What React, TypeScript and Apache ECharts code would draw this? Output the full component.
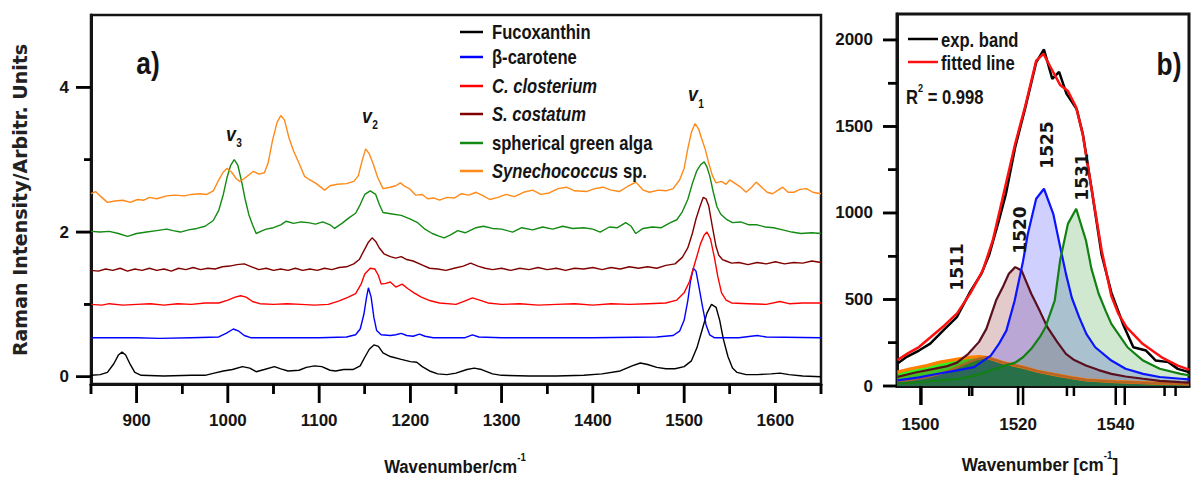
import React, { useEffect, useRef } from "react";
import * as echarts from "echarts";

// ---------- axis ticks ----------
const xTicksA = [900, 1000, 1100, 1200, 1300, 1400, 1500, 1600];
const xMinorA = [850, 950, 1050, 1150, 1250, 1350, 1450, 1550, 1650];
const yTicksA = [0, 2, 4];
const yMinorA = [1, 3];
const xTicksB = [1500, 1520, 1540];
const xMinorB = [1510, 1530, 1550];
const yTicksB = [0, 500, 1000, 1500, 2000];
const yMinorB = [250, 750, 1250, 1750];

// ---------- panel a spectra (wavenumber, offset intensity) ----------
const fucoxanthin = [[850,0.02],[860,0.03],[868,0.06],[875,0.18],[880,0.3],[884,0.34],[888,0.3],[893,0.17],[898,0.06],[905,0.02],[930,0.01],[960,0.02],[975,0.02],[985,0.05],[995,0.08],[1005,0.1],[1016,0.14],[1024,0.12],[1031,0.07],[1040,0.1],[1051,0.14],[1058,0.11],[1066,0.08],[1078,0.09],[1086,0.13],[1095,0.15],[1103,0.14],[1112,0.09],[1118,0.08],[1127,0.1],[1137,0.1],[1145,0.15],[1150,0.27],[1155,0.38],[1160,0.44],[1165,0.42],[1170,0.33],[1178,0.28],[1190,0.24],[1200,0.21],[1207,0.2],[1213,0.14],[1221,0.08],[1230,0.04],[1240,0.03],[1250,0.05],[1262,0.1],[1270,0.12],[1278,0.1],[1290,0.04],[1300,0.02],[1330,0.01],[1360,0.01],[1390,0.02],[1410,0.04],[1430,0.08],[1443,0.15],[1452,0.19],[1460,0.17],[1470,0.13],[1480,0.11],[1490,0.11],[1500,0.14],[1508,0.22],[1514,0.4],[1520,0.66],[1525,0.88],[1530,1.0],[1535,0.96],[1539,0.78],[1543,0.52],[1548,0.28],[1553,0.12],[1558,0.06],[1568,0.03],[1580,0.03],[1595,0.04],[1605,0.05],[1615,0.03],[1630,0.01],[1650,0.0]];
const betaCarotene = [[850,0.54],[900,0.54],[925,0.53],[960,0.54],[990,0.55],[998,0.6],[1006,0.66],[1012,0.63],[1018,0.57],[1025,0.54],[1060,0.54],[1100,0.54],[1130,0.55],[1140,0.58],[1145,0.66],[1149,0.86],[1152,1.1],[1154,1.23],[1157,1.1],[1160,0.82],[1163,0.64],[1168,0.58],[1178,0.57],[1184,0.58],[1190,0.6],[1196,0.57],[1203,0.56],[1210,0.59],[1216,0.56],[1225,0.54],[1260,0.54],[1268,0.58],[1275,0.55],[1300,0.54],[1400,0.54],[1470,0.55],[1488,0.57],[1495,0.63],[1500,0.78],[1504,1.05],[1507,1.32],[1510,1.5],[1513,1.46],[1516,1.26],[1520,0.98],[1524,0.72],[1528,0.58],[1533,0.54],[1560,0.54],[1580,0.57],[1590,0.55],[1650,0.54]];
const cClosterium = [[850,1.0],[862,0.99],[870,1.01],[885,0.99],[900,1.0],[915,1.01],[930,0.99],[945,1.01],[960,1.0],[975,1.02],[990,1.02],[1000,1.06],[1008,1.1],[1014,1.12],[1020,1.1],[1027,1.04],[1035,1.01],[1050,1.0],[1065,1.01],[1080,1.0],[1095,0.99],[1110,1.0],[1122,1.05],[1132,1.1],[1140,1.15],[1146,1.28],[1150,1.42],[1156,1.5],[1161,1.49],[1165,1.4],[1168,1.28],[1173,1.29],[1178,1.31],[1184,1.24],[1191,1.28],[1197,1.22],[1204,1.16],[1212,1.1],[1222,1.05],[1232,1.02],[1250,1.0],[1260,1.05],[1268,1.09],[1276,1.06],[1285,1.02],[1300,1.0],[1320,1.01],[1340,0.99],[1360,1.0],[1380,1.01],[1400,0.99],[1420,1.01],[1440,1.0],[1460,1.01],[1480,1.02],[1492,1.06],[1500,1.16],[1506,1.32],[1512,1.58],[1518,1.84],[1522,1.96],[1525,2.0],[1529,1.9],[1533,1.66],[1537,1.38],[1541,1.16],[1546,1.06],[1552,1.02],[1570,1.01],[1590,1.0],[1605,1.04],[1615,1.01],[1630,1.02],[1650,1.02]];
const sCostatum = [[850,1.47],[858,1.46],[866,1.49],[874,1.47],[882,1.5],[890,1.46],[898,1.49],[906,1.47],[914,1.5],[922,1.47],[930,1.49],[938,1.46],[946,1.5],[954,1.48],[962,1.51],[970,1.48],[978,1.5],[986,1.49],[994,1.52],[1002,1.53],[1010,1.55],[1018,1.56],[1026,1.52],[1034,1.48],[1042,1.5],[1050,1.47],[1058,1.49],[1066,1.47],[1074,1.5],[1082,1.47],[1090,1.49],[1098,1.47],[1106,1.5],[1114,1.48],[1122,1.51],[1130,1.52],[1138,1.56],[1144,1.62],[1149,1.74],[1154,1.86],[1158,1.92],[1162,1.87],[1166,1.78],[1171,1.7],[1178,1.66],[1184,1.64],[1190,1.66],[1196,1.62],[1203,1.6],[1212,1.55],[1221,1.5],[1230,1.49],[1239,1.47],[1248,1.5],[1258,1.53],[1266,1.57],[1274,1.53],[1282,1.5],[1290,1.48],[1300,1.5],[1310,1.47],[1320,1.5],[1330,1.48],[1340,1.51],[1350,1.48],[1360,1.5],[1370,1.47],[1380,1.5],[1390,1.49],[1400,1.51],[1410,1.48],[1420,1.51],[1430,1.49],[1440,1.52],[1450,1.5],[1460,1.52],[1470,1.5],[1480,1.54],[1490,1.56],[1498,1.65],[1504,1.78],[1509,1.98],[1513,2.18],[1517,2.34],[1521,2.48],[1524,2.46],[1527,2.36],[1531,2.07],[1535,1.8],[1538,1.68],[1542,1.62],[1546,1.6],[1552,1.57],[1560,1.58],[1570,1.55],[1580,1.58],[1590,1.56],[1600,1.59],[1610,1.56],[1620,1.58],[1630,1.57],[1640,1.6],[1650,1.58]];
const greenAlga = [[850,2.01],[860,2.0],[870,2.01],[880,1.98],[890,1.94],[900,1.98],[911,2.0],[922,2.02],[933,2.04],[940,2.02],[948,2.0],[957,2.03],[966,2.05],[975,2.08],[984,2.16],[990,2.3],[995,2.52],[999,2.75],[1003,2.92],[1007,3.0],[1011,2.92],[1015,2.7],[1019,2.45],[1023,2.24],[1027,2.1],[1031,1.98],[1036,2.01],[1042,2.04],[1050,2.06],[1058,2.1],[1064,2.15],[1072,2.12],[1080,2.14],[1088,2.13],[1096,2.11],[1104,2.14],[1112,2.1],[1117,2.05],[1125,2.12],[1133,2.2],[1140,2.26],[1145,2.38],[1150,2.52],[1156,2.57],[1162,2.52],[1166,2.38],[1170,2.27],[1180,2.25],[1190,2.23],[1200,2.18],[1208,2.13],[1216,2.04],[1224,1.98],[1232,1.94],[1237,1.92],[1244,1.96],[1252,2.02],[1260,1.99],[1272,2.06],[1280,2.08],[1290,2.05],[1300,2.04],[1312,2.0],[1322,2.06],[1334,2.03],[1345,2.07],[1356,2.04],[1367,2.08],[1378,2.05],[1390,2.06],[1400,2.04],[1408,2.0],[1418,2.07],[1427,2.06],[1436,2.13],[1442,2.08],[1447,1.98],[1455,2.05],[1465,2.07],[1475,2.06],[1485,2.13],[1492,2.17],[1498,2.28],[1504,2.45],[1509,2.67],[1514,2.85],[1518,2.93],[1522,2.97],[1525,2.9],[1528,2.78],[1532,2.55],[1536,2.35],[1540,2.25],[1546,2.18],[1553,2.13],[1562,2.14],[1571,2.1],[1580,2.1],[1589,2.07],[1598,2.06],[1608,2.03],[1618,2.0],[1628,1.98],[1640,1.99],[1650,1.98]];
const synechococcus = [[850,2.53],[855,2.56],[860,2.5],[868,2.41],[876,2.43],[885,2.44],[893,2.41],[901,2.45],[908,2.44],[914,2.48],[922,2.46],[933,2.5],[942,2.51],[952,2.5],[960,2.52],[969,2.53],[977,2.52],[984,2.57],[990,2.72],[995,2.83],[999,2.88],[1004,2.83],[1009,2.74],[1013,2.7],[1018,2.74],[1024,2.8],[1028,2.84],[1034,2.8],[1040,2.82],[1044,2.95],[1049,3.27],[1054,3.52],[1058,3.61],[1062,3.55],[1067,3.3],[1072,3.12],[1078,2.95],[1084,2.77],[1090,2.72],[1097,2.67],[1106,2.58],[1112,2.64],[1120,2.66],[1130,2.67],[1138,2.7],[1143,2.78],[1147,2.98],[1151,3.15],[1155,3.08],[1159,2.95],[1164,2.76],[1170,2.6],[1178,2.62],[1184,2.64],[1189,2.68],[1194,2.63],[1199,2.6],[1206,2.51],[1213,2.52],[1219,2.46],[1226,2.47],[1232,2.44],[1240,2.48],[1248,2.47],[1256,2.53],[1264,2.51],[1272,2.55],[1280,2.5],[1287,2.45],[1296,2.48],[1305,2.52],[1314,2.49],[1324,2.55],[1334,2.58],[1343,2.52],[1352,2.54],[1362,2.6],[1371,2.62],[1380,2.57],[1393,2.56],[1402,2.6],[1411,2.62],[1420,2.58],[1429,2.56],[1438,2.63],[1447,2.69],[1455,2.58],[1462,2.55],[1472,2.58],[1480,2.57],[1488,2.6],[1495,2.72],[1500,2.88],[1504,3.15],[1508,3.38],[1512,3.5],[1516,3.42],[1519,3.3],[1523,3.15],[1527,2.95],[1531,2.78],[1535,2.68],[1541,2.7],[1546,2.66],[1550,2.72],[1555,2.68],[1562,2.62],[1568,2.55],[1574,2.62],[1579,2.69],[1585,2.62],[1591,2.55],[1597,2.53],[1603,2.58],[1608,2.62],[1614,2.55],[1620,2.55],[1627,2.59],[1634,2.6],[1641,2.55],[1650,2.53]];

const namesA = ["Fucoxanthin", "β-carotene", "C. closterium", "S. costatum", "spherical green alga", "Synechococcus sp."];
const legendTextA = ["Fucoxanthin", "β-carotene", "{i|C. closterium}", "{i|S. costatum}", "spherical green alga", "{i|Synechococcus}{n| sp.}"];
const colorsA = ["#000000", "#0000ff", "#ff0000", "#800000", "#138a13", "#ff8a1a"];
const spectraA = [fucoxanthin, betaCarotene, cClosterium, sCostatum, greenAlga, synechococcus];

// ---------- panel b: band fit ----------
const expBand = [[1495.3,130],[1497,165],[1499.7,205],[1502,245],[1505,330],[1507.5,400],[1510.2,545],[1512.5,650],[1514.1,760],[1516.1,960],[1517.5,1110],[1519.4,1380],[1521.4,1600],[1523.7,1870],[1525.3,1945],[1527,1775],[1528.4,1815],[1529.9,1690],[1532,1600],[1533.3,1450],[1535.1,1130],[1537.1,760],[1539.1,540],[1541.6,350],[1543.6,224],[1546.2,205],[1548.2,147],[1550.8,138],[1552.7,99],[1555,80]];
const fittedLine = [[1495.3,150],[1497.5,190],[1499.7,225],[1502,280],[1504.9,350],[1507.5,420],[1510.2,535],[1512.8,670],[1514.8,840],[1516.7,1070],[1519.4,1400],[1521.4,1610],[1523.7,1880],[1525.2,1920],[1526.6,1845],[1528.6,1740],[1530.2,1705],[1531.9,1610],[1533.2,1460],[1535.1,1130],[1537.1,785],[1539.1,520],[1540.5,420],[1542.2,340],[1545.5,244],[1549.4,166],[1552.7,118],[1555,95]];
const band1511 = [[1495.3,80],[1498,100],[1501.3,118],[1504,138],[1507.9,157],[1510,165],[1512,170],[1513.5,166],[1517,135],[1521,109],[1524,85],[1527.5,66],[1531,48],[1534,35],[1540,25],[1547,18],[1555,12]];
const band1513 = [[1495.3,25],[1498,35],[1501.3,50],[1504,70],[1506,90],[1508,115],[1510,140],[1512,158],[1513.5,166],[1517,135],[1521,109],[1524,85],[1527.5,66],[1531,48],[1534,35],[1540,25],[1547,18],[1555,12]];
const band1520 = [[1495.3,53],[1499,78],[1503,100],[1505.5,115],[1507.5,135],[1509.8,186],[1512,255],[1513.5,330],[1515.5,495],[1517,580],[1518.1,649],[1519.4,687],[1520.7,668],[1521.7,600],[1522.7,533],[1524.5,430],[1526,340],[1528,255],[1529.8,186],[1531.5,150],[1533.9,119],[1536.5,92],[1539.1,70],[1542,55],[1545.6,42],[1549,30],[1553.3,22],[1555,20]];
const band1525 = [[1495.3,33],[1499.7,50],[1503,68],[1507.5,90],[1511,109],[1514.4,176],[1516,240],[1517.6,320],[1519.3,494],[1521,720],[1522,880],[1523.7,1082],[1525.3,1140],[1527.2,995],[1528.5,820],[1529.8,648],[1531,510],[1532.5,398],[1534,300],[1535.8,224],[1539.1,147],[1542,100],[1545.6,70],[1549,52],[1553.3,42],[1555,38]];
const band1531 = [[1495.3,15],[1500,22],[1504,32],[1507.9,41],[1511,60],[1514.4,90],[1517,115],[1519.4,135],[1521,166],[1522.7,215],[1524.5,285],[1525.6,340],[1527.5,494],[1528.6,725],[1530.2,937],[1531.9,1024],[1533.9,841],[1535,680],[1536.5,533],[1538,430],[1539.1,359],[1542.4,224],[1545.6,147],[1549,100],[1553.3,70],[1555,62]];
const peakLabels = ["1511", "1520", "1525", "1531"];

const SANS = '"Liberation Sans", Arial, Helvetica, sans-serif';
const WIDE = '"DejaVu Sans", Verdana, sans-serif';
const INK = "#141414";

// grid geometry and axis extents (shared by grids, axes and tick marks)
const GA = { left: 91, top: 15, width: 730, height: 369, xMin: 850, xMax: 1650, yMin: -0.1, yMax: 5 };
const GB = { left: 897, top: 14, width: 304, height: 372, xMin: 1495.2, xMax: 1555, yMin: 0, yMax: 2150 };

const onlyTicks = (ticks: number[]) => (v: number) => (ticks.some((t) => Math.abs(t - v) < 1e-6) ? String(Math.round(v)) : "");
const labelStyle = { fontSize: 17, fontWeight: "bold", fontFamily: SANS, color: INK, hideOverlap: false };

// tick marks as a custom series, positioned by the axes' own scales
function tickSeries(axis: number, pts: number[][], dir: "x" | "y", len: number) {
  return {
    type: "custom", xAxisIndex: axis, yAxisIndex: axis, clip: false, silent: true, z: 20,
    data: pts,
    renderItem: (_params: any, api: any) => {
      const p = api.coord([api.value(0), api.value(1)]);
      const shape = dir === "x"
        ? { x1: p[0], y1: p[1], x2: p[0], y2: p[1] + len }
        : { x1: p[0] - len, y1: p[1], x2: p[0], y2: p[1] };
      return { type: "line", shape, style: { stroke: "#000", lineWidth: 2.5 } };
    },
  };
}

export default function App() {
  const ref = useRef<HTMLDivElement>(null);
  useEffect(() => {
    if (!ref.current) return;
    const chart = echarts.init(ref.current, null, { renderer: "svg" });

    const seriesA = spectraA.map((d, i) => ({
      name: namesA[i], type: "line", xAxisIndex: 0, yAxisIndex: 0, data: d, clip: false,
      showSymbol: false, smooth: false,
      lineStyle: { color: colorsA[i], width: 1.4 }, z: 3,
    }));

    const bandSeries = (data: number[][], line: string, lw: number, fill: string) => ({
      type: "line", xAxisIndex: 1, yAxisIndex: 1, data, showSymbol: false, clip: false,
      lineStyle: { color: line, width: lw }, areaStyle: { color: fill, opacity: 1 }, z: 3,
    });

    const seriesB = [
      bandSeries(band1511, "#ff8000", 3.2, "rgba(40,240,20,0.95)"),
      bandSeries(band1513, "rgba(176,96,42,0.9)", 2.5, "rgba(22,150,45,0.97)"),
      bandSeries(band1520, "#5a0f1e", 2.2, "rgba(128,20,20,0.22)"),
      bandSeries(band1525, "#0a14ff", 2.2, "rgba(40,40,255,0.22)"),
      bandSeries(band1531, "#128012", 2.2, "rgba(20,140,20,0.2)"),
      { type: "line", xAxisIndex: 1, yAxisIndex: 1, data: expBand, showSymbol: false, clip: false, lineStyle: { color: "#000", width: 2.5 }, z: 4 },
      { type: "line", xAxisIndex: 1, yAxisIndex: 1, data: fittedLine, showSymbol: false, clip: false, lineStyle: { color: "#ff1010", width: 2.5 }, z: 5 },
    ];

    const ticks = [
      tickSeries(0, xTicksA.map((v) => [v, GA.yMin]), "x", 19),
      tickSeries(0, xMinorA.map((v) => [v, GA.yMin]), "x", 10),
      tickSeries(0, yTicksA.map((v) => [GA.xMin, v]), "y", 15),
      tickSeries(0, yMinorA.map((v) => [GA.xMin, v]), "y", 7),
      tickSeries(1, xTicksB.map((v) => [v, GB.yMin]), "x", 19),
      tickSeries(1, xMinorB.map((v) => [v, GB.yMin]), "x", 10),
      tickSeries(1, yTicksB.map((v) => [GB.xMin, v]), "y", 14),
      tickSeries(1, yMinorB.map((v) => [GB.xMin, v]), "y", 9),
    ];

    // same tick marks as filled rects in the graphic layer
    const rectX = (g: typeof GA, vals: number[], len: number) => vals.map((v) => {
      const p = g.left + ((v - g.xMin) / (g.xMax - g.xMin)) * g.width;
      return { type: "rect", z: 30, shape: { x: p - 1.25, y: g.top + g.height, width: 2.5, height: len }, style: { fill: "#000" } };
    });
    const rectY = (g: typeof GA, vals: number[], len: number) => vals.map((v) => {
      const p = g.top + ((g.yMax - v) / (g.yMax - g.yMin)) * g.height;
      return { type: "rect", z: 30, shape: { x: g.left - len, y: p - 1.25, width: len, height: 2.5 }, style: { fill: "#000" } };
    });
    const tickRects = [
      ...rectX(GA, xTicksA, 19), ...rectX(GA, xMinorA, 10),
      ...rectY(GA, yTicksA, 15), ...rectY(GA, yMinorA, 7),
      ...rectX(GB, xTicksB, 19), ...rectX(GB, xMinorB, 10),
      ...rectY(GB, yTicksB, 14), ...rectY(GB, yMinorB, 9),
    ];

    const legendY = [32, 57, 86, 114, 143, 171];
    const legendGraphics: any[] = [];
    legendTextA.forEach((t, i) => {
      legendGraphics.push({ type: "line", shape: { x1: 460, y1: legendY[i], x2: 483, y2: legendY[i] }, style: { stroke: colorsA[i], lineWidth: 2.5 }, z: 10 });
      legendGraphics.push({
        type: "text", x: 492, y: legendY[i], scaleX: 0.83, z: 10,
        style: {
          text: t, fill: INK, fontSize: 20, fontWeight: "bold", fontFamily: SANS, verticalAlign: "middle", align: "left",
          rich: {
            i: { fontSize: 20, fontWeight: "bold", fontStyle: "italic", fontFamily: SANS, fill: INK },
            n: { fontSize: 20, fontWeight: "bold", fontFamily: SANS, fill: INK },
          },
        },
      });
    });

    const vLabel = (x: number, y: number, sub: string, sx: number, sy: number) => [
      { type: "text", x, y, z: 10, scaleX: 0.85, style: { text: "v", fill: INK, fontSize: 21, fontWeight: "bold", fontStyle: "italic", fontFamily: SANS, align: "center", verticalAlign: "middle" } },
      { type: "text", x: sx, y: sy, z: 10, scaleX: 0.85, style: { text: sub, fill: INK, fontSize: 12, fontWeight: "bold", fontFamily: SANS, align: "center", verticalAlign: "middle" } },
    ];

    const peakPos = [[957, 267], [1020, 230], [1047, 145], [1082, 177]];
    const peakGraphics = peakLabels.map((t, i) => ({
      type: "text", x: peakPos[i][0], y: peakPos[i][1], rotation: Math.PI / 2, z: 10,
      style: { text: t, fill: INK, fontSize: 17, fontWeight: "bold", fontFamily: WIDE, align: "center", verticalAlign: "middle" },
    }));

    const supRich = {
      m: { fontSize: 19, fontWeight: "bold", fontFamily: SANS, fill: INK, lineHeight: 24, verticalAlign: "bottom" },
      s: { fontSize: 11, fontWeight: "bold", fontFamily: SANS, fill: INK, lineHeight: 12, verticalAlign: "top" },
    };

    const noTick = { show: false };

    chart.setOption({
      animation: false,
      grid: [
        { left: GA.left, top: GA.top, width: GA.width, height: GA.height, show: true, borderColor: INK, borderWidth: 2.5 },
        { left: GB.left, top: GB.top, width: GB.width, height: GB.height, show: true, borderColor: INK, borderWidth: 3 },
      ],
      xAxis: [
        { gridIndex: 0, type: "value", min: GA.xMin, max: GA.xMax, interval: 50,
          axisLine: { show: true, onZero: false, lineStyle: { color: INK, width: 3 } }, axisTick: noTick,
          axisLabel: { ...labelStyle, margin: 28, formatter: onlyTicks(xTicksA) }, splitLine: { show: false } },
        { gridIndex: 1, type: "value", min: GB.xMin, max: GB.xMax, splitNumber: 6,
          axisLine: { show: true, onZero: false, lineStyle: { color: INK, width: 3 } }, axisTick: noTick,
          axisLabel: { ...labelStyle, margin: 30, formatter: onlyTicks(xTicksB) }, splitLine: { show: false } },
      ],
      yAxis: [
        { gridIndex: 0, type: "value", min: GA.yMin, max: GA.yMax, splitNumber: 5,
          axisLine: { show: true, onZero: false, lineStyle: { color: INK, width: 3 } }, axisTick: noTick,
          axisLabel: { ...labelStyle, margin: 22, formatter: onlyTicks(yTicksA) }, splitLine: { show: false } },
        { gridIndex: 1, type: "value", min: GB.yMin, max: GB.yMax, interval: 250,
          axisLine: { show: true, onZero: false, lineStyle: { color: INK, width: 3 } }, axisTick: noTick,
          axisLabel: { ...labelStyle, margin: 24, formatter: onlyTicks(yTicksB) }, splitLine: { show: false } },
      ],
      series: [...seriesA, ...seriesB, ...ticks],
      graphic: [
        ...tickRects,
        { type: "text", x: 148, y: 63, z: 10, scaleX: 0.85, style: { text: "a)", fill: INK, fontSize: 31, fontWeight: "bold", fontFamily: SANS, align: "center", verticalAlign: "middle" } },
        { type: "text", x: 1169, y: 64, z: 10, scaleX: 0.85, style: { text: "b)", fill: INK, fontSize: 31, fontWeight: "bold", fontFamily: SANS, align: "center", verticalAlign: "middle" } },
        { type: "text", x: 20, y: 200, rotation: Math.PI / 2, z: 10, style: { text: "Raman Intensity/Arbitr. Units", fill: "#222", fontSize: 19, fontWeight: "bold", fontFamily: WIDE, align: "center", verticalAlign: "middle" } },
        { type: "text", x: 455, y: 464, z: 10, scaleX: 0.88, style: { text: "{m|Wavenumber/cm}{s|-1}", rich: supRich, align: "center", verticalAlign: "middle" } },
        { type: "text", x: 1040, y: 462, z: 10, scaleX: 0.9, style: { text: "{m|Wavenumber [cm}{s|-1}{m|]}", rich: supRich, align: "center", verticalAlign: "middle" } },
        ...legendGraphics,
        ...vLabel(231, 133, "3", 239, 143),
        ...vLabel(367, 115, "2", 375, 125),
        ...vLabel(693, 93, "1", 701, 104),
        { type: "line", shape: { x1: 908, y1: 39, x2: 938, y2: 39 }, style: { stroke: "#000", lineWidth: 2.5 }, z: 10 },
        { type: "text", x: 941, y: 40, z: 10, scaleX: 0.83, style: { text: "exp. band", fill: INK, fontSize: 20, fontWeight: "bold", fontFamily: SANS, verticalAlign: "middle" } },
        { type: "line", shape: { x1: 908, y1: 62, x2: 938, y2: 62 }, style: { stroke: "#ff1010", lineWidth: 2.5 }, z: 10 },
        { type: "text", x: 941, y: 63, z: 10, scaleX: 0.83, style: { text: "fitted line", fill: INK, fontSize: 20, fontWeight: "bold", fontFamily: SANS, verticalAlign: "middle" } },
        {
          type: "text", x: 906, y: 95, z: 10, scaleX: 0.83,
          style: {
            text: "{m|R}{s|2}{m| = 0.998}", verticalAlign: "middle",
            rich: {
              m: { fontSize: 20, fontWeight: "bold", fontFamily: SANS, fill: INK, lineHeight: 24, verticalAlign: "bottom" },
              s: { fontSize: 11, fontWeight: "bold", fontFamily: SANS, fill: INK, lineHeight: 12, verticalAlign: "top" },
            },
          },
        },
        ...peakGraphics,
      ],
    });

    return () => chart.dispose();
  }, []);
  return <div ref={ref} style={{ position: "fixed", left: 0, top: 0, width: 1192, height: 479, background: "#fff" }} />;
}
